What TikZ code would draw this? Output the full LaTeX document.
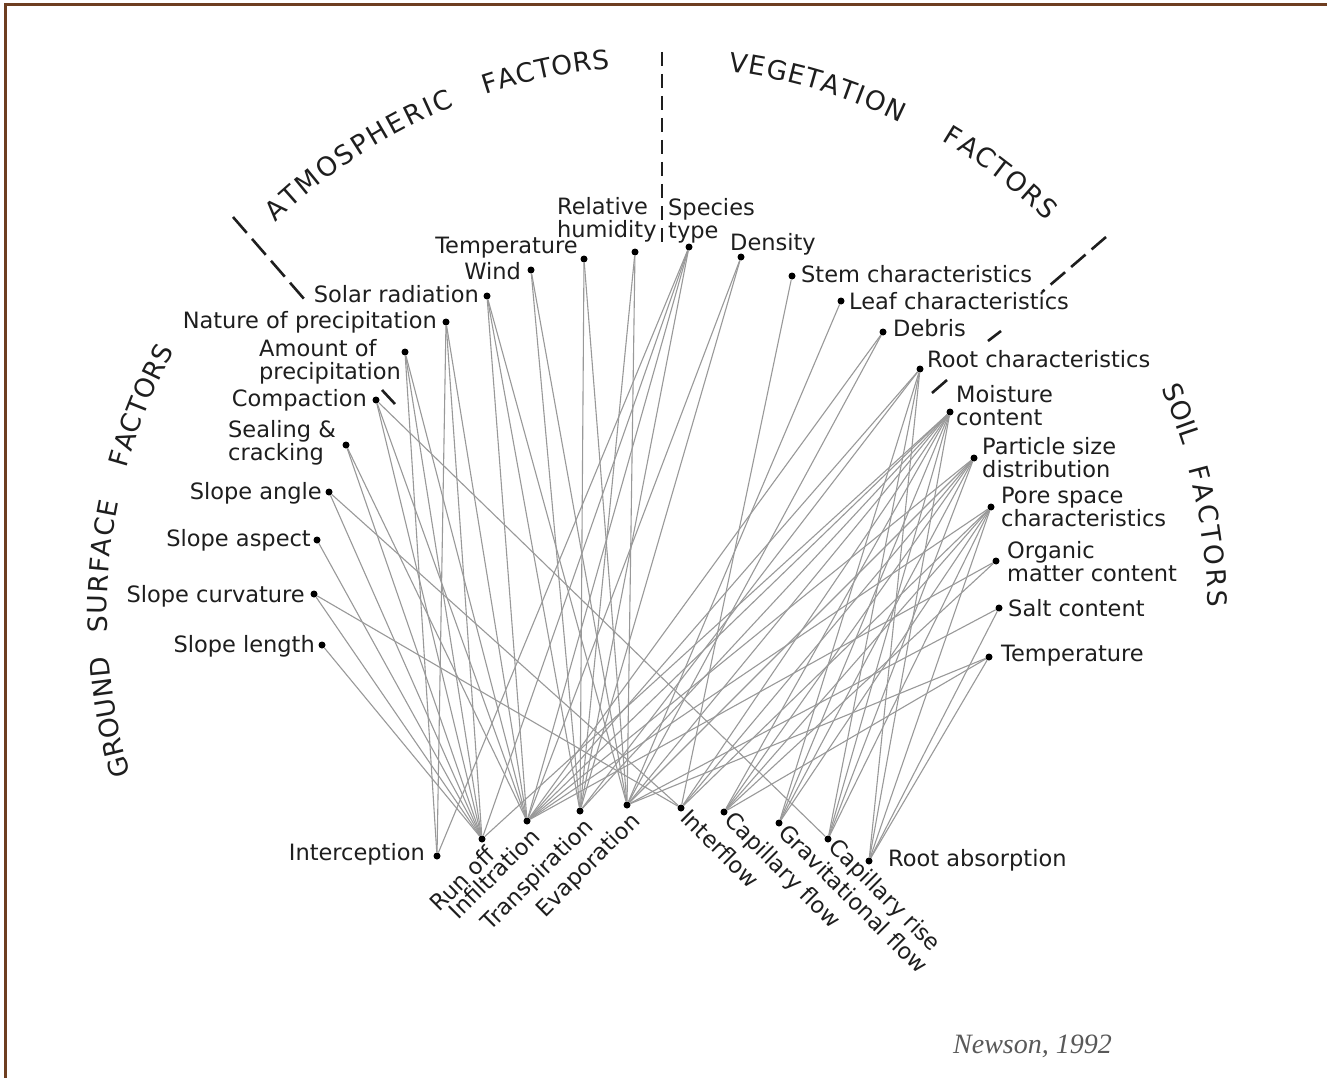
\documentclass[tikz,border=0pt]{standalone}
\usepackage{fontspec}
\newfontfamily\labfont{DejaVu Sans}
\newfontfamily\srcfont{Liberation Serif}
\usetikzlibrary{decorations.text}
\definecolor{framebrown}{RGB}{110,62,32}
\definecolor{ink}{RGB}{30,30,30}
\begin{document}
\begin{tikzpicture}[x=1pt,y=-1pt,
  dot/.style={circle,fill=black,inner sep=0pt,minimum size=7pt},
  lbl/.style={font=\labfont\fontsize{22.5}{23}\selectfont,inner sep=0pt,text=ink},
  conn/.style={draw=black!40,line width=1.1pt},
  divider/.style={draw=ink,line width=2.6pt},
  arctext/.style={decorate,decoration={text along path,text align=fit to path,
     text={|\labfont\fontsize{26.5}{26.5}\selectfont\color{ink}|#1}}}
]
\useasboundingbox (0,0) rectangle (1327,1078);
\fill[white] (0,0) rectangle (1327,1078);
\draw[framebrown,line width=3pt] (5,1078) -- (5,5) -- (1327,5);

% ---- dots: factors
\node[dot] (solar) at (487,296) {};
\node[dot] (wind)  at (531,270) {};
\node[dot] (atemp) at (584,259) {};
\node[dot] (rh)    at (635,252) {};
\node[dot] (natp)  at (446,322) {};
\node[dot] (amtp)  at (405,352) {};
\node[dot] (comp)  at (376,400) {};
\node[dot] (seal)  at (346,445) {};
\node[dot] (sang)  at (329,492) {};
\node[dot] (sasp)  at (317,540) {};
\node[dot] (scur)  at (314,594) {};
\node[dot] (slen)  at (322,645) {};
\node[dot] (spec)  at (689,247) {};
\node[dot] (dens)  at (741,257) {};
\node[dot] (stem)  at (792,276) {};
\node[dot] (leaf)  at (841,301) {};
\node[dot] (debr)  at (883,332) {};
\node[dot] (root)  at (920,369) {};
\node[dot] (mois)  at (950,412) {};
\node[dot] (part)  at (974,458) {};
\node[dot] (pore)  at (991,507) {};
\node[dot] (orgm)  at (996,561) {};
\node[dot] (salt)  at (999,608) {};
\node[dot] (stmp)  at (989,657) {};
% ---- dots: processes
\node[dot] (intc)  at (437,856) {};
\node[dot] (roff)  at (482,839) {};
\node[dot] (infl)  at (527,821) {};
\node[dot] (trsp)  at (580,811) {};
\node[dot] (evap)  at (627,805) {};
\node[dot] (iflw)  at (681,808) {};
\node[dot] (cflw)  at (724,812) {};
\node[dot] (gflw)  at (779,823) {};
\node[dot] (crise) at (828,839) {};
\node[dot] (rabs)  at (869,861) {};

% ---- connectors
\foreach \a/\b in {
  solar/trsp, solar/evap, solar/infl,
  wind/trsp, wind/evap,
  atemp/trsp, atemp/evap,
  rh/trsp, rh/evap,
  natp/intc, natp/roff, natp/infl,
  amtp/intc, amtp/roff, amtp/infl,
  comp/roff, comp/infl, comp/crise,
  seal/roff, seal/infl,
  sang/roff, sang/iflw,
  sasp/roff,
  scur/roff, scur/iflw,
  slen/roff,
  spec/intc, spec/roff, spec/infl, spec/trsp,
  dens/infl, dens/trsp,
  stem/iflw,
  leaf/evap,
  debr/infl, debr/evap,
  root/infl, root/trsp, root/gflw, root/crise, root/rabs,
  mois/roff, mois/infl, mois/trsp, mois/evap, mois/iflw, mois/cflw, mois/gflw, mois/crise, mois/rabs,
  part/infl, part/evap, part/iflw, part/cflw, part/gflw, part/crise,
  pore/infl, pore/iflw, pore/cflw, pore/gflw, pore/crise, pore/rabs,
  orgm/infl, orgm/cflw,
  salt/evap, salt/rabs,
  stmp/evap, stmp/cflw, stmp/rabs}
  \draw[conn] (\a) -- (\b);

% ---- labels: atmospheric
\node[lbl,anchor=base east] (solarL) at (479,302) {Solar radiation};
\node[lbl,anchor=base east] (windL)  at (521,279) {Wind};
\node[lbl,anchor=base east] (atempL) at (578,253) {Temperature};
\node[lbl,anchor=north west,align=left] (rhL) at (557,197) {Relative\\humidity};
\node[lbl,anchor=base east] (natpL) at (437,328) {Nature of precipitation};
\node[lbl,anchor=north west,align=left] (amtpL) at (259,339) {Amount of\\precipitation};
% ---- labels: ground surface
\node[lbl,anchor=base east] (compL) at (367,406) {Compaction};
\node[lbl,anchor=north west,align=left] (sealL) at (228,420) {Sealing \&\\cracking};
\node[lbl,anchor=base east] (sangL) at (322,499) {Slope angle};
\node[lbl,anchor=base east] (saspL) at (311,546) {Slope aspect};
\node[lbl,anchor=base east] (scurL) at (305,602) {Slope curvature};
\node[lbl,anchor=base east] (slenL) at (315,652) {Slope length};
% ---- labels: vegetation
\node[lbl,anchor=north west,align=left] (specL) at (668,198) {Species\\type};
\node[lbl,anchor=base west] (densL) at (730,250) {Density};
\node[lbl,anchor=base west] (stemL) at (801,282) {Stem characteristics};
\node[lbl,anchor=base west] (leafL) at (849,309) {Leaf characteristics};
\node[lbl,anchor=base west] (debrL) at (893,336) {Debris};
\node[lbl,anchor=base west] (rootL) at (927,367) {Root characteristics};
% ---- labels: soil
\node[lbl,anchor=north west,align=left] (moisL) at (956,385) {Moisture\\content};
\node[lbl,anchor=north west,align=left] (partL) at (982,437) {Particle size\\distribution};
\node[lbl,anchor=north west,align=left] (poreL) at (1001,487) {Pore space\\characteristics};
\node[lbl,anchor=north west,align=left] (orgmL) at (1007,541) {Organic\\matter content};
\node[lbl,anchor=base west] (saltL) at (1008,616) {Salt content};
\node[lbl,anchor=base west] (stmpL) at (1001,661) {Temperature};
% ---- labels: processes
\node[lbl,anchor=base east] (intcL) at (425,860) {Interception};
\node[lbl,anchor=base west] (rabsL) at (888,866) {Root absorption};
\node[lbl,rotate=45,anchor=north east] (roffL) at (484,844) {Run off};
\node[lbl,rotate=45,anchor=north east] (inflL) at (529,826) {Infiltration};
\node[lbl,rotate=45,anchor=north east] (trspL) at (582,816) {Transpiration};
\node[lbl,rotate=45,anchor=north east] (evapL) at (629,810) {Evaporation};
\node[lbl,rotate=-45,anchor=west] (iflwL) at (685,813) {Interflow};
\node[lbl,rotate=-45,anchor=west] (cflwL) at (728,817) {Capillary flow};
\node[lbl,rotate=-45,anchor=west] (gflwL) at (783,828) {Gravitational flow};
\node[lbl,rotate=-45,anchor=west] (criseL) at (832,844) {Capillary rise};

% ---- dividers
\draw[divider,dash pattern=on 21pt off 8pt] (233,217) -- (305,300);
\draw[divider] (382,390) -- (395,404);
\draw[divider,dash pattern=on 14pt off 8pt] (662,52) -- (662,246);
\draw[divider,dash pattern=on 19pt off 8pt] (1106,237) -- (1042,292);
\draw[divider] (1001,331) -- (988,341);
\draw[divider] (947,380) -- (932,393);

% ---- group titles along the arc
\begin{scope}[x=1pt,y=1pt]
\coordinate (ctr) at (660,-615);
\path[arctext={ATMOSPHERIC}] (ctr) ++(134.4:549) arc[start angle=134.4,end angle=112,radius=549];
\path[arctext={FACTORS}] (ctr) ++(108.5:549) arc[start angle=108.5,end angle=95.2,radius=549];
\path[arctext={VEGETATION}] (ctr) ++(82.8:548) arc[start angle=82.8,end angle=64,radius=548];
\path[arctext={FACTORS}] (ctr) ++(59.3:552) arc[start angle=59.3,end angle=45.5,radius=552];
\path[arctext={SOIL}] (ctr) ++(24.3:550) arc[start angle=24.3,end angle=17.9,radius=550];
\path[arctext={FACTORS}] (ctr) ++(15.5:548) arc[start angle=15.5,end angle=0.8,radius=548];
\path[arctext={GROUND}] (ctr) ++(196.8:553) arc[start angle=196.8,end angle=184.3,radius=553];
\path[arctext={SURFACE}] (ctr) ++(181.8:553) arc[start angle=181.8,end angle=168.2,radius=553];
\path[arctext={FACTORS}] (ctr) ++(164.6:553) arc[start angle=164.6,end angle=151.4,radius=553];
\end{scope}

\node[font=\srcfont\itshape\fontsize{28}{28}\selectfont,text=black!65,anchor=base west,inner sep=0pt] (src) at (953,1053) {Newson, 1992};
\end{tikzpicture}
\end{document}
